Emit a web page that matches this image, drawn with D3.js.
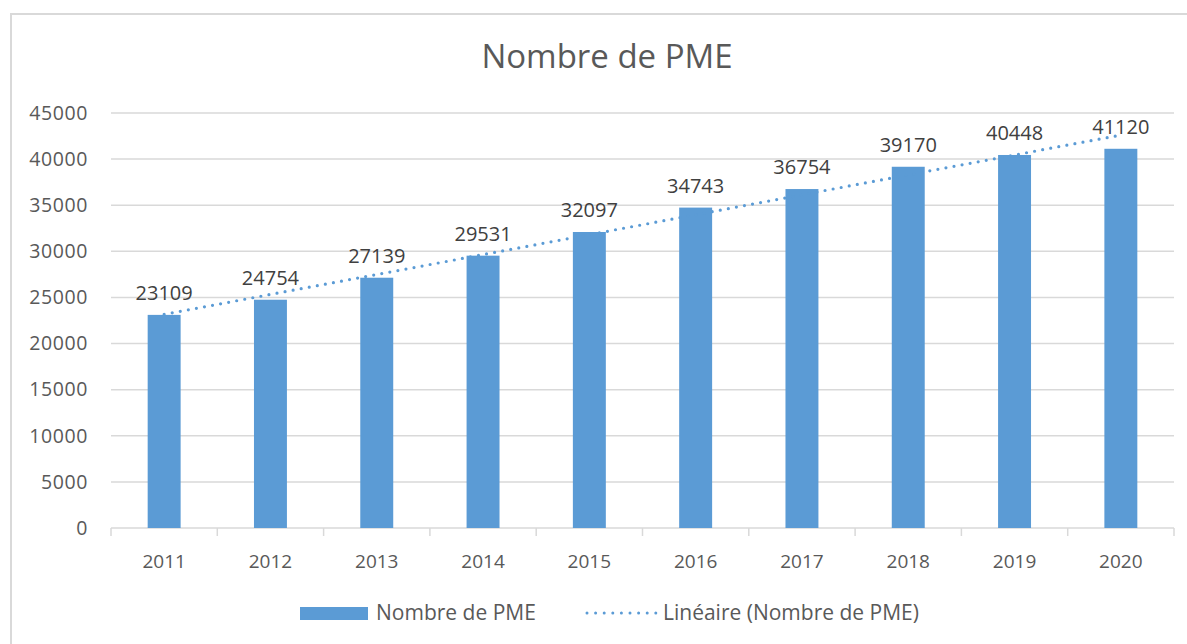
<!DOCTYPE html>
<html>
<head>
<meta charset="utf-8">
<script src="https://cdn.jsdelivr.net/npm/d3@7"></script>
<style>
  html, body { margin: 0; padding: 0; background: #fff; }
  svg { display: block; font-family: "Open Sans", "Noto Sans", sans-serif; }
</style>
</head>
<body>
<svg id="chart" width="1187" height="644"></svg>
<script>
const years = ["2011", "2012", "2013", "2014", "2015", "2016", "2017", "2018", "2019", "2020"];
const pmeCounts = [23109, 24754, 27139, 29531, 32097, 34743, 36754, 39170, 40448, 41120];
const yTicks = [0, 5000, 10000, 15000, 20000, 25000, 30000, 35000, 40000, 45000];
const seriesName = "Nombre de PME";
const trendName = "Linéaire (Nombre de PME)";

const width = 1187, height = 644;
const margin = { top: 113, right: 13, bottom: 116, left: 111 };
const barColor = "#5b9bd5";
const textColor = "#595959";
const gridColor = "#d9d9d9";

const svg = d3.select("#chart");

// cadre du graphique
svg.append("rect")
  .attr("x", 11).attr("y", 14)
  .attr("width", width + 20).attr("height", height + 20)
  .attr("fill", "none")
  .attr("stroke", gridColor)
  .attr("stroke-width", 2);

svg.append("text")
  .attr("x", 607).attr("y", 68)
  .attr("text-anchor", "middle")
  .attr("fill", textColor)
  .attr("style", "font-size: 33px;")
  .text(seriesName);

const x = d3.scaleBand()
  .domain(years)
  .range([margin.left, width - margin.right])
  .paddingInner(0.69)
  .paddingOuter(0.345);

const y = d3.scaleLinear()
  .domain([0, 45000])
  .range([height - margin.bottom, margin.top]);

// grille
svg.append("g")
  .selectAll("line")
  .data(yTicks.slice(1))
  .join("line")
  .attr("x1", margin.left).attr("x2", width - margin.right)
  .attr("y1", d => y(d)).attr("y2", d => y(d))
  .attr("stroke", gridColor)
  .attr("stroke-width", 1.5);

// axe Y
const yAxis = svg.append("g")
  .attr("transform", `translate(${margin.left - 23},0)`)
  .call(d3.axisLeft(y).tickValues(yTicks).tickFormat(d3.format("d")).tickSize(0).tickPadding(0));
yAxis.select(".domain").remove();
yAxis.selectAll("text")
  .attr("fill", textColor)
  .attr("style", "font-size: 19.5px; letter-spacing: 0.6px; font-family: 'Open Sans', sans-serif;");

// axe X
const step = x.step();
const xAxisG = svg.append("g");
xAxisG.append("line")
  .attr("x1", margin.left).attr("x2", width - margin.right)
  .attr("y1", y(0)).attr("y2", y(0))
  .attr("stroke", gridColor)
  .attr("stroke-width", 1.5);
xAxisG.selectAll("line.tick")
  .data(d3.range(years.length + 1))
  .join("line")
  .attr("class", "tick")
  .attr("x1", i => margin.left + i * step).attr("x2", i => margin.left + i * step)
  .attr("y1", y(0)).attr("y2", y(0) + 8)
  .attr("stroke", gridColor)
  .attr("stroke-width", 1.5);
xAxisG.selectAll("text")
  .data(years)
  .join("text")
  .attr("x", d => x(d) + x.bandwidth() / 2)
  .attr("y", y(0) + 40)
  .attr("text-anchor", "middle")
  .attr("fill", textColor)
  .attr("style", "font-size: 19px;")
  .text(d => d);

// barres
svg.append("g")
  .selectAll("rect")
  .data(pmeCounts)
  .join("rect")
  .attr("x", (d, i) => x(years[i]))
  .attr("y", d => y(d))
  .attr("width", x.bandwidth())
  .attr("height", d => y(0) - y(d))
  .attr("fill", barColor);

// courbe de tendance linéaire (moindres carrés)
const n = pmeCounts.length;
const meanX = d3.mean(d3.range(n));
const meanY = d3.mean(pmeCounts);
const slope = d3.sum(pmeCounts, (v, i) => (i - meanX) * (v - meanY)) /
  d3.sum(d3.range(n), i => (i - meanX) ** 2);
const intercept = meanY - slope * meanX;
const trendLine = d3.line()
  .x(i => x(years[i]) + x.bandwidth() / 2)
  .y(i => y(intercept + slope * i));
svg.append("path")
  .datum([0, n - 1])
  .attr("d", trendLine)
  .attr("fill", "none")
  .attr("stroke", barColor)
  .attr("stroke-width", 3.2)
  .attr("stroke-linecap", "round")
  .attr("stroke-dasharray", "0 8.2");

// étiquettes
svg.append("g")
  .selectAll("text")
  .data(pmeCounts)
  .join("text")
  .attr("x", (d, i) => x(years[i]) + x.bandwidth() / 2)
  .attr("y", d => y(d) - 15)
  .attr("text-anchor", "middle")
  .attr("fill", "#404040")
  .attr("style", "font-size: 20px;")
  .text(d => d);

// légende
const legend = svg.append("g");
legend.append("rect")
  .attr("x", 300).attr("y", 607)
  .attr("width", 68).attr("height", 13)
  .attr("fill", barColor);
legend.append("text")
  .attr("x", 376).attr("y", 620)
  .attr("fill", textColor)
  .attr("style", "font-size: 21px;")
  .text(seriesName);
legend.append("line")
  .attr("x1", 587).attr("x2", 656)
  .attr("y1", 613).attr("y2", 613)
  .attr("stroke", barColor)
  .attr("stroke-width", 3)
  .attr("stroke-linecap", "round")
  .attr("stroke-dasharray", "0 8.6");
legend.append("text")
  .attr("x", 663).attr("y", 620)
  .attr("fill", textColor)
  .attr("style", "font-size: 21px;")
  .text(trendName);
</script>
</body>
</html>
